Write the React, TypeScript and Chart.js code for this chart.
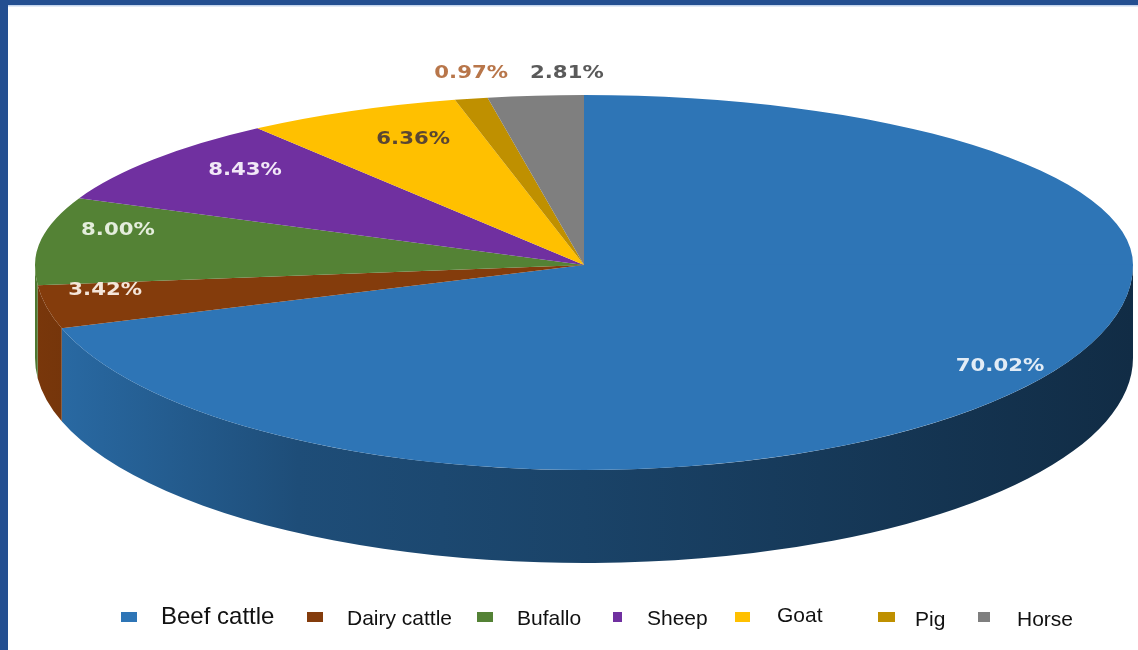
import React, { useEffect, useRef } from "react";
import { Chart, registerables } from "chart.js";

Chart.register(...registerables);

// ---- data ----
const categories = ["Beef cattle", "Dairy cattle", "Bufallo", "Sheep", "Goat", "Pig", "Horse"];
const shares = [70.02, 3.42, 8.0, 8.43, 6.36, 0.97, 2.81];
const percentLabels = ["70.02%", "3.42%", "8.00%", "8.43%", "6.36%", "0.97%", "2.81%"];

// ---- styles ----
const topColors = ["#2E75B6", "#843C0C", "#548235", "#7030A0", "#FFC000", "#BF9000", "#7F7F7F"];
const labelColors = ["#E2ECF6", "#F4E6DA", "#E4EDDC", "#F1E8F7", "#5A4632", "#B8764A", "#5A5A5A"];
const labelRadius = [0.937, 0.891, 0.859, 0.787, 0.735, -1, -1]; // -1 => outside above the pie
const legendBoxX = [121, 307, 477, 613, 735, 878, 978];
const legendBoxW = [16, 16, 16, 9, 15, 17, 12];
const legendTextX = [161, 347, 517, 647, 777, 915, 1017];
const legendFontSize = [24, 21, 21, 21, 21, 21, 21];
const legendBaseline = [624, 625, 625, 625, 622, 626, 626];

// geometry of the tilted pie (back half flatter than the front half, like perspective)
const CX = 584;
const CY = 265;
const RX = 549;
const RY_BACK = 170;
const RY_FRONT = 205;
const DEPTH = 93;
const FRAME = "#244F91";

function shade(hex: string, f: number) {
  const n = parseInt(hex.slice(1), 16);
  const r = Math.round(((n >> 16) & 255) * f);
  const g = Math.round(((n >> 8) & 255) * f);
  const b = Math.round((n & 255) * f);
  return `rgb(${r},${g},${b})`;
}

function applyHalf(chart: any, ctx: CanvasRenderingContext2D, back: boolean) {
  const a0 = chart.getDatasetMeta(0).data[0] as any;
  const R0 = a0.outerRadius;
  ctx.beginPath();
  if (back) ctx.rect(0, 0, chart.width, CY + 0.5);
  else ctx.rect(0, CY - 0.5, chart.width, chart.height);
  ctx.clip();
  ctx.translate(CX, CY);
  ctx.scale(RX / R0, (back ? RY_BACK : RY_FRONT) / R0);
  ctx.translate(-a0.x, -a0.y);
}

const pie3d = {
  id: "pie3d",
  beforeDraw(chart: any) {
    const ctx = chart.ctx;
    ctx.save();
    ctx.fillStyle = "#ffffff";
    ctx.fillRect(0, 0, chart.width, chart.height);
    ctx.restore();
  },
  beforeDatasetsDraw(chart: any) {
    const ctx = chart.ctx;
    const meta = chart.getDatasetMeta(0);
    const arcs = meta.data as any[];
    // side walls (front half only)
    arcs.forEach((arc: any, i: number) => {
      const s = arc.startAngle;
      const e = arc.endAngle;
      const ranges = [
        [Math.max(s, 0), Math.min(e, Math.PI)],
        [Math.max(s, 2 * Math.PI), Math.min(e, 3 * Math.PI)],
      ];
      ranges.forEach(([a, b]) => {
        if (b <= a) return;
        const g = ctx.createLinearGradient(CX - RX, 0, CX + RX, 0);
        g.addColorStop(0, shade(topColors[i], 0.92));
        g.addColorStop(0.24, shade(topColors[i], 0.66));
        g.addColorStop(0.5, shade(topColors[i], 0.57));
        g.addColorStop(1, shade(topColors[i], 0.38));
        ctx.save();
        ctx.beginPath();
        ctx.ellipse(CX, CY, RX, RY_FRONT, 0, a, b, false);
        ctx.lineTo(CX + RX * Math.cos(b), CY + DEPTH + RY_FRONT * Math.sin(b));
        ctx.ellipse(CX, CY + DEPTH, RX, RY_FRONT, 0, b, a, true);
        ctx.closePath();
        ctx.fillStyle = g;
        ctx.fill();
        ctx.restore();
      });
    });
    // the library draws the back half of the top face here
    ctx.save();
    applyHalf(chart, ctx, true);
  },
  afterDatasetsDraw(chart: any) {
    const ctx = chart.ctx;
    ctx.restore();
    const meta = chart.getDatasetMeta(0);
    // front half of the top face, drawn again by the library's controller
    ctx.save();
    applyHalf(chart, ctx, false);
    meta.controller.draw();
    ctx.restore();

    const arcs = meta.data as any[];
    ctx.save();
    ctx.font = "bold 18px 'DejaVu Sans', Verdana, sans-serif";
    ctx.textAlign = "center";
    ctx.textBaseline = "middle";
    const stretch = 1.18;
    let lastRight = -Infinity;
    arcs.forEach((arc: any, i: number) => {
      const mid = (arc.startAngle + arc.endAngle) / 2;
      const text = percentLabels[i];
      let x: number;
      let y: number;
      const w = ctx.measureText(text).width * stretch;
      if (labelRadius[i] > 0) {
        const sn = Math.sin(mid);
        const ry = sn < 0 ? RY_BACK : RY_FRONT;
        x = CX + RX * labelRadius[i] * Math.cos(mid);
        y = CY + ry * labelRadius[i] * sn - 12;
      } else {
        x = CX + RX * Math.cos(mid);
        y = CY - RY_BACK - 22;
        if (x - w / 2 < lastRight + 22) x = lastRight + 22 + w / 2;
        lastRight = x + w / 2;
      }
      ctx.save();
      ctx.translate(x, y);
      ctx.scale(stretch, 1);
      ctx.fillStyle = labelColors[i];
      ctx.fillText(text, 0, 0);
      ctx.restore();
    });
    ctx.restore();
  },
  afterDraw(chart: any) {
    const ctx = chart.ctx;
    ctx.save();
    // legend
    categories.forEach((name, i) => {
      ctx.fillStyle = topColors[i];
      ctx.fillRect(legendBoxX[i], 612, legendBoxW[i], 10);
      ctx.fillStyle = "#111111";
      ctx.font = `${legendFontSize[i]}px 'Liberation Sans', Arial, sans-serif`;
      ctx.textAlign = "left";
      ctx.textBaseline = "alphabetic";
      ctx.fillText(name, legendTextX[i], legendBaseline[i]);
    });
    // frame
    ctx.fillStyle = "rgba(190,208,235,0.9)";
    ctx.fillRect(8, 5, chart.width - 8, 1.5);
    ctx.fillStyle = FRAME;
    ctx.fillRect(0, 0, chart.width, 5);
    ctx.fillRect(0, 0, 8, chart.height);
    ctx.restore();
  },
};

export default function App() {
  const canvasRef = useRef<HTMLCanvasElement | null>(null);

  useEffect(() => {
    document.body.style.margin = "0";
    const canvas = canvasRef.current;
    if (!canvas) return;
    const chart = new Chart(canvas, {
      type: "pie",
      data: {
        labels: categories,
        datasets: [
          {
            data: shares,
            backgroundColor: topColors,
            borderWidth: 0,
            hoverOffset: 0,
            clip: false as any,
          } as any,
        ],
      },
      options: {
        responsive: false,
        maintainAspectRatio: false,
        animation: false,
        devicePixelRatio: 1,
        events: [],
        layout: { padding: 0 },
        plugins: {
          legend: { display: false },
          tooltip: { enabled: false },
          title: { display: false },
        },
      },
      plugins: [pie3d as any],
    });
    return () => chart.destroy();
  }, []);

  return (
    <div style={{ width: 1138, height: 650, overflow: "hidden" }}>
      <canvas ref={canvasRef} width={1138} height={650} style={{ display: "block" }} />
    </div>
  );
}
